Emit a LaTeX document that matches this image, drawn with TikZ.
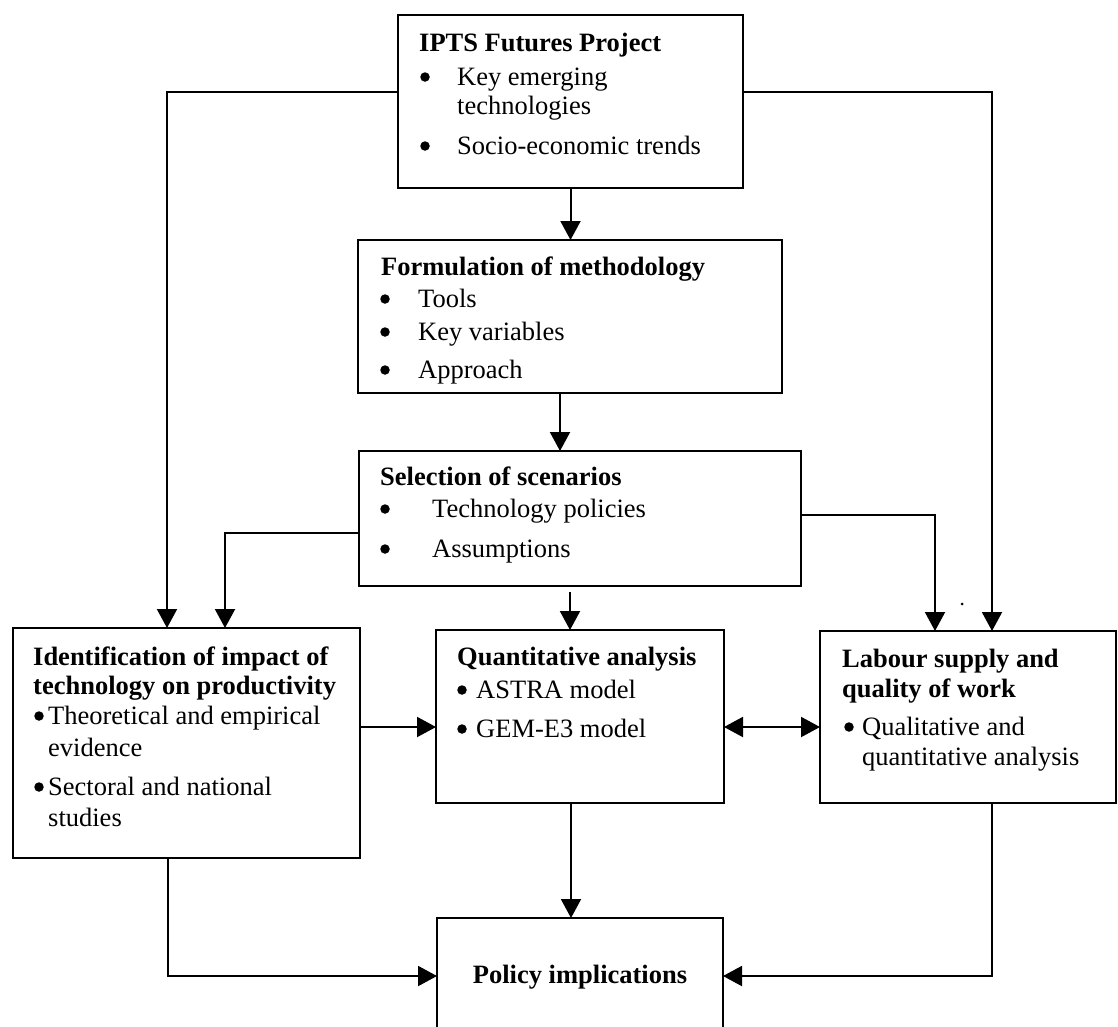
\documentclass[tikz,border=0pt]{standalone}
\usepackage{fontspec}
\setmainfont{Liberation Serif}
\usetikzlibrary{arrows.meta}

\begin{document}
\begin{tikzpicture}[x=1pt,y=-1pt,
  box/.style={draw, line width=2.2pt, inner sep=0pt, outer sep=0pt, anchor=north west},
  txt/.style={anchor=base west, inner sep=0pt, font=\fontsize{26.5}{30}\selectfont},
  hd/.style={anchor=base west, inner sep=0pt, font=\fontsize{26.5}{30}\selectfont\bfseries},
  bul/.style={circle, fill, inner sep=0pt, minimum size=9.5pt, yshift=8pt},
  arr/.style={line width=2pt, -{Triangle[length=19pt,width=20pt]}},
  dbl/.style={line width=2pt, {Triangle[length=19pt,width=20pt]}-{Triangle[length=19pt,width=20pt]}}
]
\clip (0,0) rectangle (1118,1026);
\fill[white] (0,0) rectangle (1118,1026);

% boxes
\node[box, minimum width=345pt, minimum height=173pt] (top)    at (398,15)  {};
\node[box, minimum width=424pt, minimum height=153pt] (form)   at (358,240) {};
\node[box, minimum width=442pt, minimum height=135pt] (sel)    at (359,451) {};
\node[box, minimum width=347pt, minimum height=230pt] (ident)  at (13,628)  {};
\node[box, minimum width=288pt, minimum height=173pt] (quant)  at (436,630) {};
\node[box, minimum width=296pt, minimum height=172pt] (labour) at (820,631) {};
\node[box, minimum width=286pt, minimum height=116pt] (policy) at (437,918) {};

% IPTS Futures Project
\node[hd]  (t0)  at (419,51)  {IPTS Futures Project};
\node[bul] (t1b) at (425,85)  {};
\node[txt] (t1)  at (457,85)  {Key emerging};
\node[txt] (t1c) at (457,114) {technologies};
\node[bul] (t2b) at (425,154) {};
\node[txt] (t2)  at (457,154) {Socio-economic trends};

% Formulation of methodology
\node[hd]  (f0)  at (381,275) {Formulation of methodology};
\node[bul] (f1b) at (385,307) {};
\node[txt] (f1)  at (418,307) {Tools};
\node[bul] (f2b) at (385,340) {};
\node[txt] (f2)  at (418,340) {Key variables};
\node[bul] (f3b) at (385,378) {};
\node[txt] (f3)  at (418,378) {Approach};

% Selection of scenarios
\node[hd]  (s0)  at (380,485) {Selection of scenarios};
\node[bul] (s1b) at (385,517) {};
\node[txt] (s1)  at (432,517) {Technology policies};
\node[bul] (s2b) at (385,557) {};
\node[txt] (s2)  at (432,557) {Assumptions};

% Identification of impact
\node[hd]  (i0)  at (33,665)  {Identification of impact of};
\node[hd]  (i0b) at (33,694)  {technology on productivity};
\node[bul] (i1b) at (39,724)  {};
\node[txt] (i1)  at (48,724)  {Theoretical and empirical};
\node[txt] (i1c) at (48,756)  {evidence};
\node[bul] (i2b) at (39,795)  {};
\node[txt] (i2)  at (48,795)  {Sectoral and national};
\node[txt] (i2c) at (48,826)  {studies};

% Quantitative analysis
\node[hd]  (q0)  at (457,665) {Quantitative analysis};
\node[bul] (q1b) at (462,698) {};
\node[txt] (q1)  at (476,698) {ASTRA model};
\node[bul] (q2b) at (462,737) {};
\node[txt] (q2)  at (476,737) {GEM-E3 model};

% Labour supply
\node[hd]  (l0)  at (842,667) {Labour supply and};
\node[hd]  (l0b) at (842,697) {quality of work};
\node[bul] (l1b) at (849,735) {};
\node[txt] (l1)  at (862,735) {Qualitative and};
\node[txt] (l1c) at (862,765) {quantitative analysis};

% Policy implications
\node[anchor=base, inner sep=0pt, font=\fontsize{26.5}{30}\selectfont\bfseries] (p0) at (580,983) {Policy implications};

% connectors
\draw[arr] ([yshift=9.5pt]top.west) -| ([xshift=-19.5pt]ident.north);
\draw[arr] ([yshift=9.5pt]top.east) -| ([xshift=24pt]labour.north);
\draw[arr] (top.south) -- (top.south |- form.north);
\draw[arr] ([xshift=-10pt]form.south) -- ([xshift=-10pt]form.south |- sel.north);
\draw[arr, shorten <=6pt] ([xshift=-10pt]sel.south) -- ([xshift=-10pt]quant.north);
\draw[arr] ([yshift=-14.5pt]sel.west) -| ([xshift=38.5pt]ident.north);
\draw[arr] ([yshift=3.5pt]sel.east) -| ([xshift=-33pt]labour.north);
\coordinate (mid) at ([yshift=16pt]ident.east);
\draw[arr] (mid) -- (mid -| quant.west);
\draw[dbl] (mid -| quant.east) -- (mid -| labour.west);
\draw[arr] ([xshift=-9pt]quant.south) -- ([xshift=-9pt]quant.south |- policy.north);
\draw[arr] ([xshift=-18.5pt]ident.south) |- (policy.west);
\draw[arr] ([xshift=24pt]labour.south) |- (policy.east);

% small speck
\fill (962,604) circle (1.5);
\end{tikzpicture}
\end{document}
